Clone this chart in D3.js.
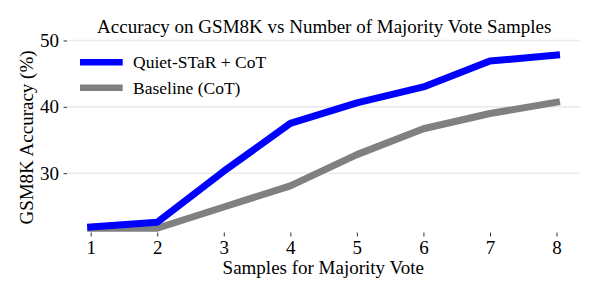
<!DOCTYPE html>
<html>
<head>
<meta charset="utf-8">
<script src="https://cdn.jsdelivr.net/npm/d3@7"></script>
<style>
  body { margin: 0; background: #fff; }
</style>
</head>
<body>
<svg id="screen" width="599" height="300"></svg>
<script>
const screenEl = document.querySelector("#screen");

// data
const samples = [1, 2, 3, 4, 5, 6, 7, 8];
const quietStar = [21.9, 22.6, 30.3, 37.5, 40.6, 43.0, 46.9, 47.8];
const baseline = [21.7, 21.7, 24.9, 28.1, 32.8, 36.7, 39.0, 40.7];
const yTicks = [30, 40, 50];
const seriesNames = ["Quiet-STaR + CoT", "Baseline (CoT)"];
const seriesColors = ["#0000ff", "#808080"];

// settings
const fontSize = 19;
const legendSize = 17.5;
const serif = "'Liberation Serif', 'Times New Roman', Times, serif";
const lineW = 7;

const svg = d3.select(screenEl);

const x = d3.scaleLinear().domain([1, 8]).range([90.7, 556.5]);
const y = d3.scaleLinear().domain([30, 50]).range([173.2, 40.5]);
const gridLeft = 67, gridRight = 580;

// grid
svg.append("g").selectAll("line").data(yTicks).join("line")
  .attr("x1", gridLeft).attr("x2", gridRight)
  .attr("y1", d => y(d)).attr("y2", d => y(d))
  .attr("stroke", "#ebebeb").attr("stroke-width", 1.6);

// y axis
var yAxis = svg.append("g").attr("transform", "translate(" + gridLeft + ",0)")
  .call(d3.axisLeft(y).tickValues(yTicks).tickSize(3.5).tickPadding(4.5).tickFormat(d3.format("d")));
yAxis.attr("font-family", null).attr("font-size", null);
yAxis.select(".domain").remove();
yAxis.selectAll(".tick line").attr("stroke", "#333").attr("stroke-width", 1);
yAxis.selectAll(".tick text").style("font-size", fontSize + "px").style("font-family", serif).attr("fill", "#000");

// x axis
var xAxis = svg.append("g").attr("transform", "translate(0,232.5)")
  .call(d3.axisBottom(x).tickValues(samples).tickSize(4).tickFormat(d3.format("d")));
xAxis.attr("font-family", null).attr("font-size", null);
xAxis.select(".domain").remove();
xAxis.selectAll(".tick line").attr("stroke", "#333").attr("stroke-width", 1);
xAxis.selectAll(".tick text").attr("y", 21.5).attr("dy", null)
  .style("font-size", fontSize + "px").style("font-family", serif).attr("fill", "#000");

// lines
const line = d3.line().x((d, i) => x(samples[i])).y(d => y(d));
[baseline, quietStar].forEach(function(vals, k){
  svg.append("path").datum(vals)
    .attr("d", line)
    .attr("fill", "none")
    .attr("stroke", k == 0 ? seriesColors[1] : seriesColors[0])
    .attr("stroke-width", lineW)
    .attr("stroke-linecap", "square")
    .attr("stroke-linejoin", "round");
});

// legend
const legend = svg.append("g");
seriesNames.forEach(function(name, i){
  var ly = 62.3 + i * 25.5;
  legend.append("line").attr("x1", 80).attr("x2", 122.7).attr("y1", ly).attr("y2", ly)
    .attr("stroke", seriesColors[i]).attr("stroke-width", 6.5);
  legend.append("text").attr("x", 133).attr("y", ly + 6)
    .style("font-size", legendSize + "px").style("font-family", serif).text(name);
});

// title and labels
svg.append("text").attr("x", 324.2).attr("y", 32.7).attr("text-anchor", "middle")
  .style("font-size", fontSize + "px").style("font-family", serif)
  .text("Accuracy on GSM8K vs Number of Majority Vote Samples");

svg.append("text").attr("x", 323.3).attr("y", 274).attr("text-anchor", "middle")
  .style("font-size", fontSize + "px").style("font-family", serif)
  .text("Samples for Majority Vote");

svg.append("text").attr("transform", "translate(32.5,137.5) rotate(-90)")
  .attr("text-anchor", "middle")
  .style("font-size", fontSize + "px").style("font-family", serif)
  .text("GSM8K Accuracy (%)");
</script>
</body>
</html>
